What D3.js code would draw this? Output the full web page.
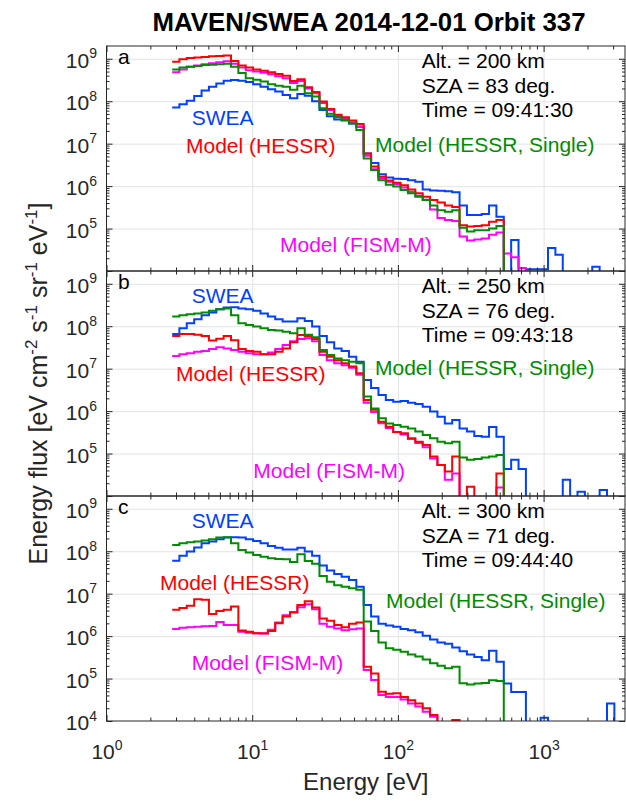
<!DOCTYPE html>
<html><head><meta charset="utf-8">
<script src="https://cdn.jsdelivr.net/npm/d3@7"></script>
<style>body{margin:0;background:#fff}svg{display:block}text{font-family:"Liberation Sans",Arial,Helvetica,sans-serif}</style>
</head><body><svg id="c" width="626" height="801"></svg>
<script>
// Energy bin centres [eV]
const energy = [2.99,3.35,3.77,4.24,4.76,5.35,6.01,6.75,7.58,8.52,9.57,10.76,12.08,13.58,15.25,17.14,19.26,21.64,24.31,27.32,30.69,34.48,38.74,43.53,48.91,54.95,61.74,69.37,77.94,87.57,98.4,110.5,124.2,139.6,156.8,176.2,198.0,222.5,250.0,280.9,315.5,354.5,398.3,447.6,502.9,565.0,634.8,713.3,801.4,900.5,1011.6,1136.8,1277,1435,1612,1811,2035,2287,2569,2887,3243,3645];

// Panel a (Alt 200 km)
const sweaA = [7.1e7,8.5e7,1.02e8,1.32e8,1.78e8,2.19e8,2.63e8,3.02e8,3.16e8,3.02e8, 2.82e8,2.51e8,2.19e8,1.91e8,1.70e8,1.41e8,1.17e8,1.48e8,1.35e8,1.0e8, 6.2e7,4.4e7,3.7e7,3.5e7,3.0e7,2.5e7,5.9e6,3.5e6,1.9e6,1.6e6, 1.5e6,1.48e6,1.38e6,1.26e6,8.3e5,7.9e5,7.8e5,7.6e5,7.2e5,3.5e5, 2.1e5,2.1e5,2.2e5,3.5e5,1.9e5,0,5.4e4,0,1.1e4,1.1e4, 1.1e4,3.5e4,2.4e4,0,0,0,0,1.26e4,0,0, 0,0];
const hessrA = [8.5e8,9.8e8,1.05e9,1.07e9,1.10e9,1.15e9,1.17e9,1.20e9,8.9e8,6.9e8, 6.2e8,5.6e8,5.2e8,4.8e8,4.4e8,4.0e8,3.0e8,3.3e8,2.14e8,1.66e8, 9.8e7,6.6e7,4.8e7,4.2e7,3.5e7,2.9e7,5.9e6,2.9e6,1.66e6,1.35e6, 1.2e6,1.05e6,8.3e5,6.8e5,5.6e5,4.7e5,4.1e5,3.5e5,3.2e5,1.2e5, 1.12e5,1.15e5,1.2e5,1.45e5,1.58e5,0,0,0,0,0, 0,0,0,0,0,0,0,0,0,0, 0,0];
const singleA = [5.6e8,6.2e8,6.5e8,6.8e8,7.1e8,7.2e8,7.4e8,7.6e8,6.5e8,4.6e8, 3.5e8,3.2e8,2.9e8,2.5e8,2.3e8,2.2e8,1.86e8,2.3e8,1.55e8,1.29e8, 6.8e7,5.1e7,4.2e7,3.6e7,3.0e7,2.1e7,4.5e6,2.4e6,1.38e6,1.07e6, 9.8e5,8.1e5,6.8e5,5.6e5,4.7e5,3.5e5,2.7e5,2.5e5,2.7e5,1.05e5, 8.5e4,9.1e4,9.1e4,1.0e5,1.15e5,0,0,0,0,0, 0,0,0,0,0,0,0,0,0,0, 0,0];
const fismA = [4.8e8,5.6e8,6.5e8,6.9e8,7.4e8,7.8e8,8.3e8,8.7e8,7.6e8,6.2e8, 5.4e8,5.0e8,4.7e8,4.3e8,3.9e8,3.5e8,2.7e8,3.0e8,2.0e8,1.55e8, 9.1e7,6.2e7,4.5e7,3.8e7,3.2e7,2.5e7,5.2e6,2.5e6,1.51e6,1.26e6, 1.1e6,9.3e5,7.4e5,5.9e5,4.8e5,2.8e5,1.78e5,1.58e5,1.51e5,6.5e4, 5.2e4,5.5e4,5.8e4,7.1e4,8.1e4,2.6e4,2.1e4,1.17e4,0,0, 0,0,0,0,0,0,0,0,0,0, 0,0];

// Panel b (Alt 250 km)
const sweaB = [6.6e7,8.9e7,1.17e8,1.45e8,1.82e8,2.1e8,2.5e8,2.75e8,2.8e8,2.6e8, 2.5e8,2.3e8,2.0e8,1.7e8,1.45e8,1.29e8,1.29e8,1.55e8,1.32e8,9.8e7, 5.9e7,4.2e7,3.0e7,2.6e7,1.9e7,1.45e7,5.4e6,3.5e6,2.4e6,1.82e6, 1.66e6,1.74e6,1.58e6,1.48e6,1.26e6,9.8e5,7.4e5,5.1e5,6.2e5,3.9e5, 3.3e5,2.6e5,2.5e5,4.2e5,2.5e5,4.3e4,7.1e4,4.3e4,0,0, 0,0,0,2.4e4,0,1.26e4,0,0,1.38e4,0, 0,0];
const hessrB = [5.9e7,6.6e7,6.6e7,6.3e7,5.9e7,4.6e7,5.1e7,5.9e7,4.7e7,2.9e7, 2.6e7,2.5e7,2.2e7,2.2e7,2.5e7,3.0e7,4.2e7,6.2e7,5.9e7,5.0e7, 2.5e7,1.9e7,1.58e7,1.35e7,1.12e7,7.8e6,1.82e6,1.07e6,5.6e5,4.3e5, 3.2e5,3.0e5,2.3e5,1.91e5,1.58e5,8.5e4,5.4e4,3.8e4,8.5e4,0, 1.66e4,0,0,0,3.4e4,0,0,0,0,0, 0,0,0,0,0,0,0,0,0,0, 0,0];
const singleB = [1.7e8,1.82e8,1.91e8,2.0e8,2.1e8,2.3e8,2.5e8,2.6e8,1.82e8,1.17e8, 1.07e8,9.8e7,8.9e7,8.1e7,7.9e7,7.4e7,6.8e7,8.9e7,6.3e7,5.5e7, 2.75e7,2.1e7,1.74e7,1.58e7,1.45e7,1.35e7,2.2e6,1.15e6,6.8e5,5.1e5, 4.7e5,4.3e5,3.9e5,3.3e5,2.75e5,2.3e5,1.91e5,1.74e5,1.91e5,8.1e4, 7.1e4,7.4e4,8.1e4,8.5e4,9.3e4,0,0,0,0,0, 0,0,0,0,0,0,0,0,0,0, 0,0];
const fismB = [2.0e7,2.2e7,2.3e7,2.5e7,2.6e7,2.9e7,3.2e7,3.0e7,2.75e7,2.5e7, 2.3e7,2.2e7,2.2e7,2.4e7,2.9e7,3.6e7,4.4e7,5.0e7,5.2e7,4.4e7, 2.1e7,1.58e7,1.35e7,1.2e7,1.05e7,7.2e6,1.58e6,9.5e5,5.2e5,4.0e5, 3.2e5,2.8e5,2.2e5,1.78e5,1.41e5,7.6e4,5.4e4,2.4e4,3.4e4,0, 0,0,0,0,1.58e4,0,0,0,0,0, 0,0,0,0,0,0,0,0,0,0, 0,0];

// Panel c (Alt 300 km)
const sweaC = [6.0e7,7.8e7,9.8e7,1.23e8,1.55e8,1.7e8,1.91e8,2.1e8,2.14e8,2.1e8, 1.91e8,1.74e8,1.55e8,1.32e8,1.2e8,1.1e8,1.1e8,1.2e8,9.8e7,7.8e7, 4.6e7,3.5e7,2.9e7,2.5e7,2.1e7,1.45e7,5.4e6,2.9e6,1.95e6,1.78e6, 1.66e6,1.48e6,1.38e6,1.23e6,1.02e6,8.3e5,7.1e5,6.6e5,5.4e5,4.4e5, 3.7e5,3.2e5,2.7e5,4.5e5,2.5e5,7.6e4,4.8e4,4.8e4,0,0, 1.2e4,0,0,0,0,0,0,0,0,2.6e4, 0,0];
const hessrC = [4.2e6,4.6e6,5.2e6,7.4e6,7.2e6,3.3e6,3.9e6,4.2e6,5.0e6,1.35e6, 1.26e6,1.17e6,1.15e6,1.32e6,2.0e6,2.9e6,3.6e6,5.4e6,6.6e6,4.7e6, 2.6e6,2.3e6,1.82e6,1.62e6,1.95e6,2.1e6,1.9e5,1.32e5,4.9e4,4.4e4, 4.5e4,3.7e4,3.1e4,2.6e4,2.0e4,1.38e4,0,0,1.05e4,0, 0,0,0,0,0,0,0,0,0,0, 0,0,0,0,0,0,0,0,0,0, 0,0];
const singleC = [1.41e8,1.55e8,1.62e8,1.7e8,1.78e8,1.91e8,2.1e8,2.14e8,1.55e8,1.07e8, 9.3e7,8.1e7,7.4e7,6.8e7,6.6e7,6.5e7,5.6e7,8.5e7,5.9e7,5.1e7, 2.6e7,1.91e7,1.58e7,1.45e7,1.35e7,1.23e7,2.2e6,1.32e6,7.1e5,5.2e5, 4.8e5,4.3e5,3.7e5,3.3e5,2.8e5,2.3e5,2.0e5,1.74e5,1.91e5,7.8e4, 7.2e4,7.6e4,7.9e4,9.1e4,8.7e4,0,0,0,0,0, 0,0,0,0,0,0,0,0,0,0, 0,0];
const fismC = [1.48e6,1.58e6,1.62e6,1.66e6,1.7e6,1.74e6,2.14e6,1.82e6,1.82e6,1.26e6, 1.2e6,1.17e6,1.17e6,1.41e6,2.1e6,3.1e6,3.7e6,4.8e6,5.6e6,4.3e6, 1.95e6,1.66e6,1.51e6,1.38e6,1.45e6,1.51e6,1.58e5,9.3e4,4.1e4,3.7e4, 3.7e4,3.2e4,2.6e4,2.2e4,1.66e4,1.26e4,0,0,0,0, 0,0,0,0,0,0,0,0,0,0, 0,0,0,0,0,0,0,0,0,0, 0,0];

const xTickVals = [1, 10, 100, 1000];
const yTickVals = [1e4, 1e5, 1e6, 1e7, 1e8, 1e9];
const panelLetters = ["a", "b", "c"];
const infoA = ["Alt. = 200 km", "SZA = 83 deg.", "Time = 09:41:30"];
const infoB = ["Alt. = 250 km", "SZA = 76 deg.", "Time = 09:43:18"];
const infoC = ["Alt. = 300 km", "SZA = 71 deg.", "Time = 09:44:40"];
const seriesNames = ["SWEA", "Model (FISM-M)", "Model (HESSR)", "Model (HESSR, Single)"];
const titleText = "MAVEN/SWEA 2014-12-01 Orbit 337";

// ---------- layout ----------
const COL = {SWEA:"#0040ff", "Model (FISM-M)":"#ff00ff", "Model (HESSR)":"#ff0000", "Model (HESSR, Single)":"#008c00"};
const L = 106.5, R = 625, PH = 225, tops = [46, 271, 496];
const FONT = 21;
const labelPos = [
  {"SWEA":[191.7,125], "Model (HESSR)":[186,153], "Model (HESSR, Single)":[375,152], "Model (FISM-M)":[280,252]},
  {"SWEA":[191.7,303], "Model (HESSR)":[176,381], "Model (HESSR, Single)":[375,375], "Model (FISM-M)":[253.3,478]},
  {"SWEA":[191.7,528], "Model (HESSR)":[160,590], "Model (HESSR, Single)":[386,608], "Model (FISM-M)":[191.7,670]}
];
const panels = [
  {info: infoA, data: [sweaA, fismA, hessrA, singleA]},
  {info: infoB, data: [sweaB, fismB, hessrB, singleB]},
  {info: infoC, data: [sweaC, fismC, hessrC, singleC]}
];

const svg = d3.select("#c");
const x = d3.scaleLog().domain([1, 3620]).range([L, R]);

// bin edges (geometric mid-points between centres)
const edges = energy.map((e, i) => i === 0 ? e / Math.sqrt(energy[1] / e) : Math.sqrt(energy[i - 1] * e));
edges.push(energy[energy.length - 1] * Math.sqrt(energy[energy.length - 1] / energy[energy.length - 2]));

const xMinor = [];
[1, 10, 100, 1000].forEach(d => { for (let m = 2; m <= 9; m++) if (d * m < 3620) xMinor.push(d * m); });
const yMinor = [];
[1e4, 1e5, 1e6, 1e7, 1e8].forEach(d => { for (let m = 2; m <= 9; m++) yMinor.push(d * m); });

const defs = svg.append("defs");
const AX = "#262626";

function supLabel(sel, d, supSize, supDy) {
  sel.text(null);
  sel.append("tspan").text("10");
  sel.append("tspan").attr("font-size", supSize).attr("dy", supDy).text(Math.round(Math.log10(d)));
}

panels.forEach((p, i) => {
  const T = tops[i];
  const y = d3.scaleLog().domain([1e4, 2e9]).range([T + PH, T]);
  const g = svg.append("g");

  // grid
  g.append("g").attr("transform", `translate(0,${T + PH})`)
    .call(d3.axisBottom(x).tickValues([10, 100, 1000]).tickSize(-PH).tickFormat(""))
    .call(s => s.select(".domain").remove())
    .selectAll("line").attr("stroke", "#e3e3e3").attr("stroke-width", 1);
  g.append("g").attr("transform", `translate(${L},0)`)
    .call(d3.axisLeft(y).tickValues([1e5, 1e6, 1e7, 1e8, 1e9]).tickSize(-(R - L)).tickFormat(""))
    .call(s => s.select(".domain").remove())
    .selectAll("line").attr("stroke", "#e3e3e3").attr("stroke-width", 1);

  // data
  defs.append("clipPath").attr("id", "clip" + i).append("rect")
    .attr("x", L).attr("y", T).attr("width", R - L).attr("height", PH);
  const line = d3.line().x(d => x(d[0])).y(d => y(d[1] > 0 ? d[1] : 1e3));
  const dg = g.append("g").attr("clip-path", `url(#clip${i})`);
  p.data.forEach((vals, si) => {
    const pts = vals.flatMap((v, k) => [[edges[k], v], [edges[k + 1], v]]);
    dg.append("path").attr("d", line(pts)).attr("fill", "none")
      .attr("stroke", COL[seriesNames[si]]).attr("stroke-width", 2).attr("stroke-linejoin", "miter");
  });

  // ticks on all four sides
  const tk = (axis, tr, vals, size) => g.append("g").attr("transform", tr).attr("color", AX)
    .call(axis.tickValues(vals).tickSize(size).tickFormat(""))
    .call(s => s.select(".domain").remove());
  tk(d3.axisLeft(y), `translate(${L},0)`, yTickVals, -6);
  tk(d3.axisLeft(y), `translate(${L},0)`, yMinor, -3);
  tk(d3.axisRight(y), `translate(${R},0)`, yTickVals, -6);
  tk(d3.axisRight(y), `translate(${R},0)`, yMinor, -3);
  tk(d3.axisTop(x), `translate(0,${T})`, xTickVals, -6);
  tk(d3.axisTop(x), `translate(0,${T})`, xMinor, -3.5);
  tk(d3.axisBottom(x), `translate(0,${T + PH})`, xTickVals, -6);
  tk(d3.axisBottom(x), `translate(0,${T + PH})`, xMinor, -3.5);

  // box
  g.append("rect").attr("x", L).attr("y", T).attr("width", R - L).attr("height", PH)
    .attr("fill", "none").attr("stroke", AX).attr("stroke-width", 1);

  // y tick labels
  const yl = g.append("g").attr("transform", `translate(${L},0)`)
    .call(d3.axisLeft(y).tickValues(i === 2 ? yTickVals : yTickVals.slice(1)).tickSize(0).tickPadding(9.5).tickFormat(() => ""))
    .call(s => s.select(".domain").remove());
  yl.selectAll(".tick text").attr("dy", null).attr("y", 8.5).attr("font-size", FONT)
    .attr("fill", AX).attr("font-family", null)
    .each(function (d) { supLabel(d3.select(this), d, 14, -9.5); });

  // x tick labels on the bottom panel
  if (i === 2) {
    const xl = g.append("g").attr("transform", `translate(0,${T + PH})`)
      .call(d3.axisBottom(x).tickValues(xTickVals).tickSize(0).tickPadding(0).tickFormat(() => ""))
      .call(s => s.select(".domain").remove());
    xl.selectAll(".tick text").attr("dy", null).attr("y", 38).attr("font-size", FONT)
      .attr("fill", AX).attr("font-family", null)
      .each(function (d) { supLabel(d3.select(this), d, 14, -9.5); });
  }

  // panel letter & info
  g.append("text").attr("x", 118).attr("y", T + 17.5).attr("font-size", FONT).attr("fill", "#000").text(panelLetters[i]);
  p.info.forEach((t, j) => g.append("text").attr("x", 421.7).attr("y", T + 22 + j * 24.5)
    .attr("font-size", FONT).attr("fill", "#000").text(t));

  // series labels
  seriesNames.forEach(n => {
    const [lx, ly] = labelPos[i][n];
    g.append("text").attr("x", lx).attr("y", ly).attr("font-size", FONT).attr("fill", COL[n]).text(n);
  });
});

// title
svg.append("text").attr("x", 369).attr("y", 31).attr("text-anchor", "middle")
  .attr("font-size", 25.8).attr("font-weight", "bold").attr("fill", "#000").text(titleText);

// x label
svg.append("text").attr("x", (L + R) / 2).attr("y", 790).attr("text-anchor", "middle")
  .attr("font-size", 24).attr("fill", AX).text("Energy [eV]");

// y label
const yt = svg.append("text").attr("transform", `translate(47,${(tops[0] + tops[2] + PH) / 2}) rotate(-90)`)
  .attr("text-anchor", "middle").attr("font-size", 25).attr("fill", AX);
const parts = [["Energy flux [eV cm", 0], ["-2", 1], [" s", 0], ["-1", 1], [" sr", 0], ["-1", 1], [" eV", 0], ["-1", 1], ["]", 0]];
let prevSup = 0;
parts.forEach(([t, s]) => {
  const ts = yt.append("tspan").text(t);
  if (s) ts.attr("font-size", 17).attr("dy", prevSup ? 0 : -10);
  else if (prevSup) ts.attr("dy", 10);
  prevSup = s;
});
</script></body></html>
